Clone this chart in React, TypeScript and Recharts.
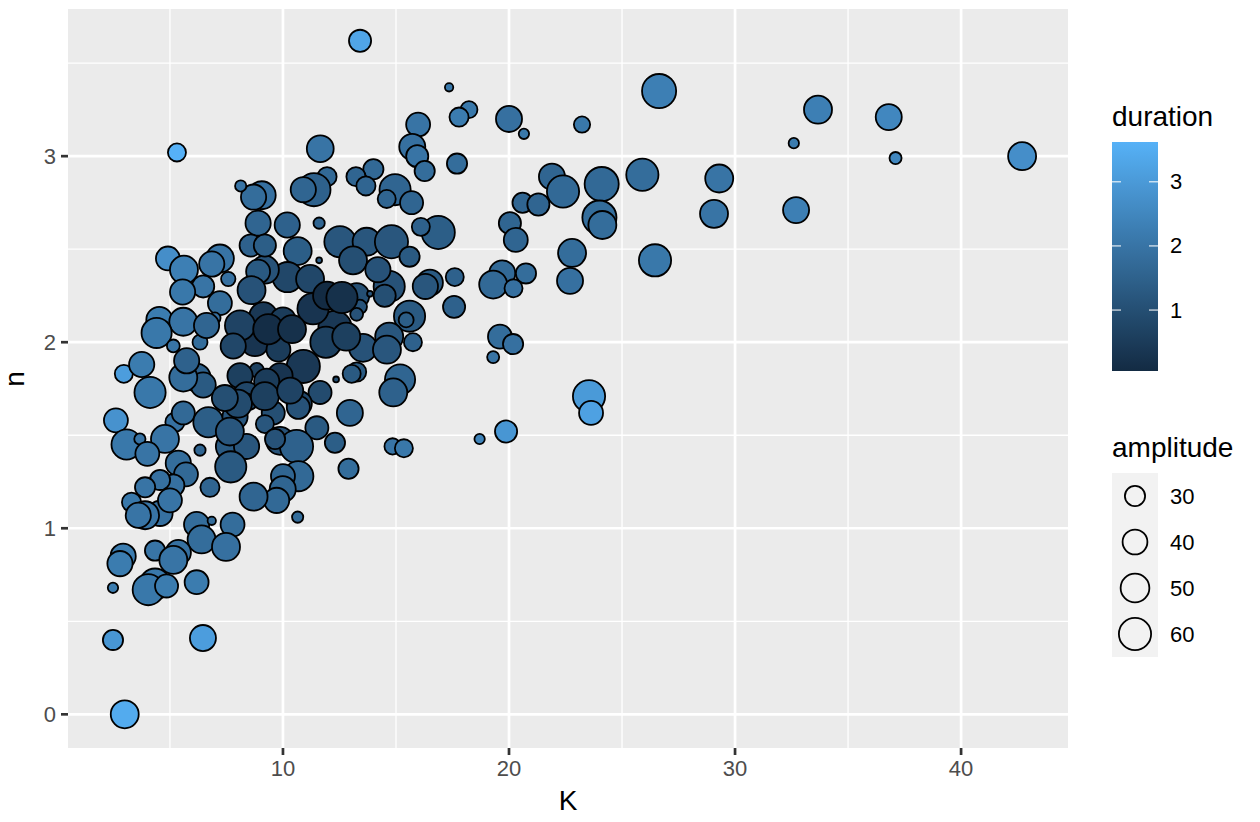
import React from 'react';
import { ScatterChart, Scatter, XAxis, YAxis, ZAxis, CartesianGrid, ReferenceLine } from 'recharts';

// values, one entry per bubble
const K = [
  13.41, 5.31, 3.0, 2.48, 6.46, 2.96, 2.61, 2.48, 4.91, 17.35,
  18.23, 17.79, 20.0, 20.66, 23.23, 26.64, 17.7, 21.9, 22.39, 24.1,
  24.0, 24.13, 25.9, 29.3, 29.07, 26.46, 22.79, 22.7, 20.6, 21.3,
  20.04, 20.3, 19.7, 19.3, 20.75, 20.2, 19.6, 20.18, 19.3, 17.6,
  17.57, 23.54, 23.63, 19.87, 18.7, 32.6, 33.67, 32.7, 36.8, 37.1,
  42.7, 11.65, 15.98, 15.72, 15.94, 16.27, 14.96, 15.69, 14.59, 14.0,
  13.23, 13.67, 11.95, 11.37, 10.9, 11.6, 11.6, 10.19, 10.65, 9.06,
  8.7, 8.9, 12.52, 13.7, 14.8, 13.1, 15.6, 16.87, 16.1, 16.5,
  16.3, 14.7, 14.5, 13.26, 13.85, 13.4, 13.26, 15.6, 15.45, 14.7,
  15.75, 12.3, 11.33, 11.9, 13.54, 14.6, 10.9, 10.2, 9.2, 11.2,
  9.13, 10.0, 8.76, 9.8, 8.84, 9.87, 11.64, 10.72, 12.35, 13.26,
  13.04, 15.18, 14.88, 12.96, 10.68, 9.57, 9.2, 11.5, 12.3, 9.87,
  10.6, 12.9, 10.68, 10.0, 9.99, 9.72, 8.7, 10.65, 14.85, 15.35,
  8.13, 8.57, 9.2, 8.9, 5.62, 7.21, 6.85, 6.47, 7.58, 5.56,
  7.21, 8.61, 6.99, 4.53, 5.59, 4.41, 5.15, 6.33, 6.62, 8.1,
  7.8, 6.18, 6.47, 5.59, 3.75, 4.12, 8.1, 8.4, 5.74, 8.39,
  5.22, 5.59, 6.7, 7.88, 4.78, 6.33, 7.65, 8.39, 5.37, 5.71,
  7.69, 6.77, 5.15, 4.56, 4.56, 6.18, 7.77, 6.85, 6.4, 7.48,
  5.37, 4.34, 3.08, 3.67, 4.0, 3.9, 3.3, 3.9, 3.6, 5.0,
  2.93, 2.79, 4.34, 4.04, 4.85, 6.18, 5.15, 9.28, 9.65, 7.65,
  9.35, 10.4, 8.01, 7.43, 9.2, 10.32, 12.8, 14.2, 11.95, 12.61,
];

const N = [
  3.62, 3.02, 0.0, 0.4, 0.41, 1.83, 1.58, 0.68, 2.45, 3.37,
  3.25, 3.21, 3.2, 3.12, 3.17, 3.35, 2.96, 2.89, 2.81, 2.85,
  2.67, 2.63, 2.9, 2.88, 2.69, 2.44, 2.48, 2.33, 2.75, 2.74,
  2.64, 2.55, 2.37, 2.31, 2.37, 2.29, 2.03, 1.99, 1.92, 2.35,
  2.19, 1.71, 1.62, 1.52, 1.48, 3.07, 3.25, 2.71, 3.21, 2.99,
  3.0, 3.04, 3.17, 3.05, 3.0, 2.92, 2.82, 2.75, 2.77, 2.93,
  2.89, 2.84, 2.89, 2.82, 2.82, 2.64, 2.44, 2.63, 2.49, 2.79,
  2.78, 2.64, 2.54, 2.54, 2.54, 2.44, 2.46, 2.59, 2.62, 2.32,
  2.3, 2.3, 2.25, 2.25, 2.26, 2.19, 2.15, 2.14, 2.12, 2.03,
  2.0, 2.08, 2.18, 2.0, 1.97, 1.96, 1.87, 2.35, 2.39, 2.34,
  2.14, 2.12, 2.0, 1.96, 1.85, 1.82, 1.73, 1.67, 1.8, 1.84,
  1.83, 1.8, 1.73, 1.62, 1.65, 1.62, 1.56, 1.54, 1.46, 1.47,
  1.44, 1.32, 1.28, 1.28, 1.21, 1.15, 1.17, 1.06, 1.44, 1.43,
  2.84, 2.52, 2.52, 2.38, 2.39, 2.45, 2.42, 2.3, 2.34, 2.27,
  2.21, 2.28, 2.13, 2.12, 2.11, 2.05, 1.98, 2.0, 2.09, 2.09,
  1.98, 1.81, 1.77, 1.81, 1.88, 1.73, 1.82, 1.71, 1.9, 1.69,
  1.57, 1.62, 1.57, 1.6, 1.48, 1.42, 1.44, 1.44, 1.35, 1.29,
  1.33, 1.22, 1.23, 1.26, 1.08, 1.02, 1.02, 1.04, 0.94, 0.9,
  0.87, 0.88, 1.45, 1.48, 1.4, 1.22, 1.14, 1.07, 1.07, 1.15,
  0.85, 0.81, 0.7, 0.67, 0.69, 0.71, 0.83, 1.79, 1.48, 1.52,
  2.07, 2.07, 1.67, 1.7, 1.71, 1.74, 2.03, 2.39, 2.25, 2.24,
];

const AMPLITUDE = [
  34, 26, 48, 30, 43, 26, 38, 15, 38, 13,
  24, 28, 43, 15, 23, 66, 30, 43, 60, 66,
  66, 48, 60, 48, 48, 60, 48, 43, 30, 34,
  34, 38, 43, 48, 30, 26, 38, 30, 17, 26,
  34, 60, 38, 34, 15, 15, 48, 43, 43, 17,
  48, 45, 38, 43, 34, 30, 57, 36, 26, 30,
  28, 28, 28, 63, 41, 16, 11, 41, 48, 48,
  41, 41, 57, 48, 63, 48, 30, 63, 26, 43,
  41, 57, 34, 41, 11, 20, 18, 57, 21, 48,
  26, 63, 57, 57, 48, 48, 63, 54, 48, 48,
  48, 41, 48, 38, 20, 41, 36, 41, 11, 28,
  26, 54, 48, 43, 36, 36, 26, 36, 30, 48,
  63, 30, 54, 38, 43, 41, 48, 16, 23, 26,
  16, 34, 34, 38, 48, 48, 41, 34, 20, 41,
  38, 48, 16, 43, 48, 54, 18, 21, 41, 54,
  41, 48, 41, 48, 41, 57, 41, 48, 41, 18,
  28, 36, 54, 41, 48, 16, 48, 41, 41, 38,
  57, 28, 34, 30, 41, 41, 38, 13, 48, 48,
  41, 30, 54, 16, 38, 30, 28, 48, 41, 38,
  41, 41, 57, 57, 36, 38, 48, 41, 30, 48,
  54, 48, 48, 43, 48, 43, 48, 41, 48, 57,
];

const DURATION = [
  3.3, 3.62, 3.45, 2.9, 3.1, 3.1, 2.8, 2.2, 2.7, 2.1,
  2.1, 2.2, 1.9, 2.1, 2.1, 2.3, 1.8, 1.6, 1.7, 1.7,
  1.8, 1.8, 1.8, 2.0, 2.0, 2.1, 1.8, 1.9, 1.6, 1.6,
  1.6, 1.6, 1.7, 1.7, 1.8, 1.9, 1.8, 1.9, 2.0, 1.5,
  1.5, 3.0, 3.2, 2.9, 2.4, 2.2, 2.3, 2.3, 2.5, 2.5,
  2.7, 2.0, 2.0, 1.9, 2.0, 1.8, 1.6, 1.6, 1.6, 1.7,
  1.6, 1.6, 1.7, 1.5, 1.6, 1.6, 1.4, 1.5, 1.4, 1.9,
  1.8, 1.6, 1.2, 1.2, 1.2, 1.0, 1.3, 1.4, 1.5, 1.3,
  1.2, 1.1, 1.0, 1.0, 1.2, 1.1, 1.1, 1.3, 1.4, 1.2,
  1.5, 0.4, 0.3, 0.6, 1.1, 1.2, 0.4, 0.8, 1.1, 0.8,
  0.4, 0.5, 0.3, 0.5, 0.6, 0.3, 0.9, 0.8, 1.0, 1.3,
  1.3, 1.6, 1.5, 1.6, 1.1, 1.0, 1.2, 1.3, 1.4, 1.1,
  1.5, 1.8, 1.7, 1.6, 1.6, 1.7, 1.6, 1.8, 2.0, 2.1,
  2.0, 1.5, 1.4, 1.3, 2.3, 2.0, 2.0, 2.0, 1.9, 2.1,
  1.8, 1.1, 1.9, 2.2, 2.0, 2.1, 2.0, 1.8, 1.6, 0.7,
  0.8, 1.5, 1.3, 1.8, 2.2, 2.1, 0.6, 0.8, 1.5, 0.9,
  1.9, 1.7, 1.4, 1.2, 2.0, 1.6, 1.3, 1.2, 1.8, 1.7,
  1.3, 1.6, 1.9, 1.9, 1.9, 1.8, 1.8, 1.8, 1.8, 1.9,
  1.9, 2.0, 2.1, 2.0, 2.0, 2.0, 2.1, 2.0, 2.0, 2.0,
  2.2, 2.2, 2.1, 2.1, 2.2, 2.2, 2.0, 0.5, 1.1, 1.2,
  0.1, 0.2, 0.9, 1.0, 0.6, 0.7, 0.6, 1.1, 0.05, 0.2,
];

const X_TICKS = [10, 20, 30, 40];
const X_MINOR = [5, 15, 25, 35];
const Y_TICKS = [0, 1, 2, 3];
const Y_MINOR = [0.5, 1.5, 2.5, 3.5];
const DURATION_BREAKS = [1, 2, 3];
const AMPLITUDE_BREAKS = [30, 40, 50, 60];

const FONT = '"Liberation Sans", Arial, Helvetica, sans-serif';
const LOW = [0x13, 0x2b, 0x43];
const HIGH = [0x56, 0xb1, 0xf7];
const DUR_MIN = Math.min(...DURATION);
const DUR_MAX = Math.max(...DURATION);

// bubble area (px^2) grows linearly with amplitude above AMP_ZERO
const AREA_PER_UNIT = 17.6;
const AMP_ZERO = 8.4;
const AMP_TOP = 70;

const data = K.map((k, i) => ({ K: k, n: N[i], amplitude: AMPLITUDE[i], duration: DURATION[i] }));

function durationColor(v: number) {
  const t = Math.max(0, Math.min(1, (v - DUR_MIN) / (DUR_MAX - DUR_MIN)));
  const c = LOW.map((l, i) => Math.round(l + (HIGH[i] - l) * t));
  return `rgb(${c[0]},${c[1]},${c[2]})`;
}

function amplitudeRadius(a: number) {
  return Math.sqrt((AREA_PER_UNIT * (a - AMP_ZERO)) / Math.PI);
}

const Bubble = (props: any) => {
  const { cx, cy, size, width, payload } = props;
  if (cx == null || cy == null) return null;
  const r = size != null ? Math.sqrt(size / Math.PI) : width / 2;
  return (
    <circle cx={cx} cy={cy} r={Math.max(r - 0.9, 1)} fill={durationColor(payload.duration)} stroke="#000" strokeWidth={1.8} />
  );
};

// colourbar / legend geometry
const BAR_X = 1112;
const BAR_Y = 142;
const BAR_W = 46;
const BAR_H = 229;
const KEY_Y = 473;
const KEY_H = 46;

const Legends = () => {
  const stops = Array.from({ length: 11 }, (_, i) => i / 10);
  const tickY = (v: number) => BAR_Y + BAR_H - ((v - DUR_MIN) / (DUR_MAX - DUR_MIN)) * BAR_H;
  return (
    <svg width={1260} height={822} style={{ position: 'absolute', left: 0, top: 0, pointerEvents: 'none' }} fontFamily={FONT}>
      <defs>
        <linearGradient id="durGrad" x1="0" y1="1" x2="0" y2="0">
          {stops.map((t) => (
            <stop key={t} offset={t} stopColor={durationColor(DUR_MIN + t * (DUR_MAX - DUR_MIN))} />
          ))}
        </linearGradient>
      </defs>

      {/* axis titles */}
      <text x={568} y={810} fontSize={28} textAnchor="middle" fill="#000">K</text>
      <text x={24} y={379} fontSize={28} textAnchor="middle" fill="#000" transform="rotate(-90, 24, 379)">n</text>

      {/* duration colourbar */}
      <text x={BAR_X} y={126} fontSize={28} fill="#000">duration</text>
      <rect x={BAR_X} y={BAR_Y} width={BAR_W} height={BAR_H} fill="url(#durGrad)" />
      {DURATION_BREAKS.map((v) => (
        <g key={v}>
          <line x1={BAR_X} x2={BAR_X + 9} y1={tickY(v)} y2={tickY(v)} stroke="#fff" strokeOpacity={0.8} strokeWidth={1.3} />
          <line x1={BAR_X + BAR_W - 9} x2={BAR_X + BAR_W} y1={tickY(v)} y2={tickY(v)} stroke="#fff" strokeOpacity={0.8} strokeWidth={1.3} />
          <text x={1170} y={tickY(v)} fontSize={22} dominantBaseline="central" fill="#000">{v}</text>
        </g>
      ))}

      {/* amplitude size legend */}
      <text x={BAR_X} y={457} fontSize={28} fill="#000">amplitude</text>
      <rect x={BAR_X} y={KEY_Y} width={BAR_W} height={KEY_H * AMPLITUDE_BREAKS.length} fill="#F2F2F2" />
      {AMPLITUDE_BREAKS.map((a, i) => {
        const cy = KEY_Y + KEY_H / 2 + i * KEY_H;
        return (
          <g key={a}>
            <circle cx={BAR_X + BAR_W / 2} cy={cy} r={amplitudeRadius(a) - 0.9} fill="none" stroke="#000" strokeWidth={1.8} />
            <text x={1170} y={cy} fontSize={22} dominantBaseline="central" fill="#000">{a}</text>
          </g>
        );
      })}
    </svg>
  );
};

export default function App() {
  return (
    <div style={{ position: 'relative', width: 1260, height: 822, background: '#fff', fontFamily: FONT }}>
      <style>{'body{margin:0}'}</style>
      <ScatterChart width={1260} height={822} margin={{ top: 9, right: 192, bottom: 0, left: 0 }}>
        <CartesianGrid horizontal={false} vertical={false} fill="#EBEBEB" />
        {X_MINOR.map((v) => (
          <ReferenceLine key={`xm${v}`} x={v} stroke="#fff" strokeWidth={1.3} />
        ))}
        {Y_MINOR.map((v) => (
          <ReferenceLine key={`ym${v}`} y={v} stroke="#fff" strokeWidth={1.3} />
        ))}
        {X_TICKS.map((v) => (
          <ReferenceLine key={`x${v}`} x={v} stroke="#fff" strokeWidth={2.7} />
        ))}
        {Y_TICKS.map((v) => (
          <ReferenceLine key={`y${v}`} y={v} stroke="#fff" strokeWidth={2.7} />
        ))}
        <XAxis
          type="number"
          dataKey="K"
          domain={[0.49, 44.73]}
          allowDataOverflow
          ticks={X_TICKS}
          interval={0}
          height={74}
          axisLine={false}
          tickSize={7}
          tickMargin={5}
          tickLine={{ stroke: '#333333', strokeWidth: 2.7 }}
          tick={{ fill: '#4D4D4D', fontSize: 22, fontFamily: FONT }}
        />
        <YAxis
          type="number"
          dataKey="n"
          domain={[-0.181, 3.791]}
          allowDataOverflow
          ticks={Y_TICKS}
          interval={0}
          width={68}
          axisLine={false}
          tickSize={7}
          tickMargin={5}
          tickLine={{ stroke: '#333333', strokeWidth: 2.7 }}
          tick={{ fill: '#4D4D4D', fontSize: 22, fontFamily: FONT }}
        />
        <ZAxis type="number" dataKey="amplitude" domain={[AMP_ZERO, AMP_TOP]} range={[0, AREA_PER_UNIT * (AMP_TOP - AMP_ZERO)]} />
        <Scatter data={data} shape={Bubble} isAnimationActive={false} />
      </ScatterChart>
      <Legends />
    </div>
  );
}
